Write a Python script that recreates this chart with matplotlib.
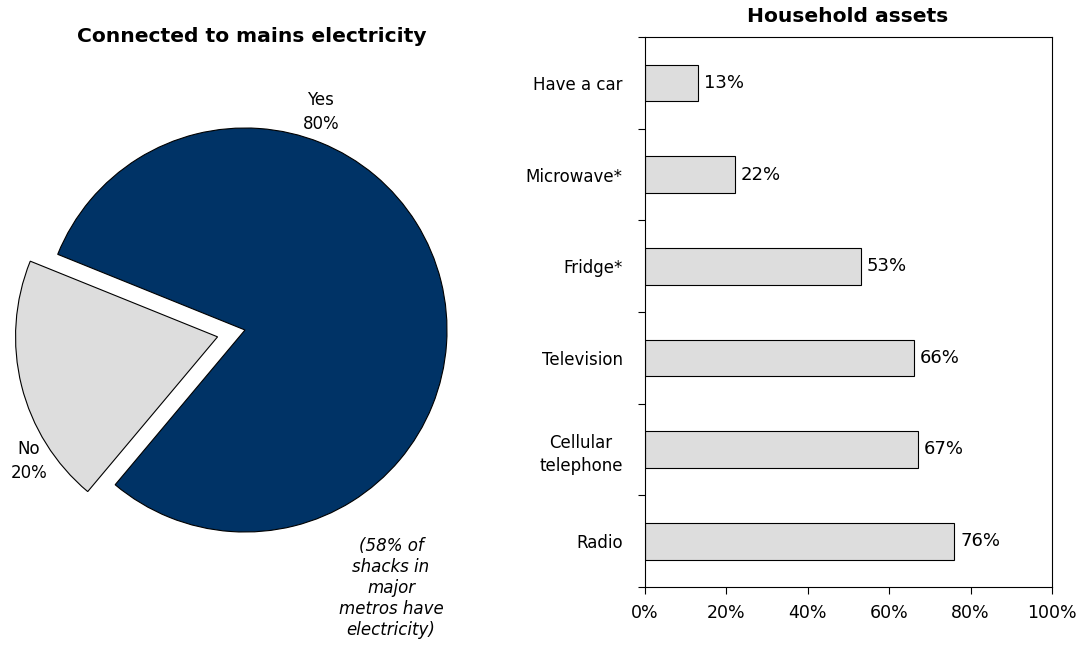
import matplotlib
matplotlib.use("Agg")
import matplotlib.pyplot as plt
from matplotlib.ticker import FixedLocator, PercentFormatter

# Data
pie_labels = ["Yes", "No"]
pie_values = [80, 20]
pie_colors = ["#003366", "#dddddd"]

assets = ["Have a car", "Microwave*", "Fridge*", "Television", "Cellular\ntelephone", "Radio"]
asset_values = [13, 22, 53, 66, 67, 76]
x_ticks = [0, 20, 40, 60, 80, 100]

W, H = 1081, 646
fig = plt.figure(figsize=(W / 100, H / 100), dpi=100)
fig.patch.set_facecolor("white")

def px_axes(left, top, right, bottom):
    return fig.add_axes([left / W, 1 - bottom / H, (right - left) / W, (bottom - top) / H])

# ---- Pie ----
cx, cy, r = 245, 330, 202
axp = px_axes(cx - r, cy - r, cx + r, cy + r)
wedges, _ = axp.pie(pie_values, colors=pie_colors, startangle=230, counterclock=True,
                    explode=[0, 0.14], radius=1,
                    wedgeprops=dict(edgecolor="black", linewidth=0.8, clip_on=False))
axp.set_xlim(-1, 1)
axp.set_ylim(-1, 1)
axp.set_aspect("equal")
axp.axis("off")
axp.text(0.375, 1.08, f"{pie_labels[0]}\n{pie_values[0]}%", ha="center", va="center",
         fontsize=12, linespacing=1.4)
axp.text(-1.07, -0.65, f"{pie_labels[1]}\n{pie_values[1]}%", ha="center", va="center",
         fontsize=12, linespacing=1.4)
fig.text(252 / W, 1 - 36 / H, "Connected to mains electricity", ha="center", va="center",
         fontsize=14.6, fontweight="bold")
fig.text(391 / W, 1 - 588 / H, "(58% of\nshacks in\nmajor\nmetros have\nelectricity)",
         ha="center", va="center", fontsize=12, style="italic", linespacing=1.2)

# ---- Bars ----
axb = px_axes(645, 37, 1052, 587)
ypos = list(range(len(assets)))
axb.barh(ypos, asset_values, height=0.4, color="#dddddd", edgecolor="black", linewidth=0.8)
for y, v in zip(ypos, asset_values):
    axb.text(v + 1.4, y, f"{v}%", va="center", ha="left", fontsize=13)
axb.set_ylim(len(assets) - 0.5, -0.5)
axb.set_xlim(0, 100)
axb.xaxis.set_major_locator(FixedLocator(x_ticks))
axb.xaxis.set_major_formatter(PercentFormatter(decimals=0))
axb.yaxis.set_major_locator(FixedLocator([i - 0.5 for i in range(len(assets) + 1)]))
axb.yaxis.set_major_formatter(plt.NullFormatter())
axb.yaxis.set_minor_locator(FixedLocator(ypos))
axb.set_yticklabels(assets, minor=True)
axb.tick_params(axis="y", which="minor", length=0, pad=16, labelsize=12)
axb.tick_params(axis="y", which="major", direction="out", length=5, width=0.8)
axb.tick_params(axis="x", direction="out", length=5, width=0.8, labelsize=12.5, pad=7)
for lab in axb.get_yticklabels(minor=True):
    lab.set_horizontalalignment("right")
    lab.set_multialignment("center")
    lab.set_linespacing(1.4)
for s in axb.spines.values():
    s.set_linewidth(0.8)
fig.text(848 / W, 1 - 16 / H, "Household assets", ha="center", va="center",
         fontsize=14.6, fontweight="bold")

fig.savefig("out.png", dpi=100, facecolor="white")
